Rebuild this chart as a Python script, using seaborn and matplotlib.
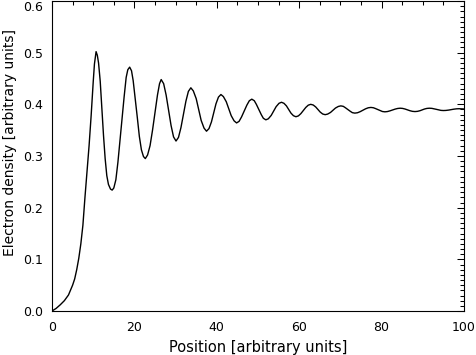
import matplotlib
matplotlib.use("Agg")
import matplotlib.pyplot as plt
from matplotlib.ticker import MultipleLocator
import seaborn as sns

# ── DATA ──────────────────────────────────────────────────
# rising edge and first two oscillations
position_start = [0.0, 1.0, 2.0, 3.0, 4.0, 5.0, 5.5, 6.0, 6.5, 7.0, 7.5,
                  8.0, 8.5, 9.0, 9.5, 10.0, 10.3, 10.7, 11.0, 11.3, 11.7,
                  12.1, 12.5, 12.9, 13.3, 13.7, 14.2, 14.6, 15.0, 15.5,
                  16.0, 16.5, 17.0, 17.5, 18.0, 18.4, 18.85, 19.3, 19.7,
                  20.2, 20.7, 21.2, 21.7, 22.2, 22.65, 23.2, 23.8, 24.4,
                  25.0, 25.6, 26.1]
density_start = [0.000, 0.005, 0.012, 0.020, 0.031, 0.050, 0.062, 0.080,
                 0.102, 0.130, 0.166, 0.220, 0.270, 0.320, 0.378, 0.443,
                 0.478, 0.502, 0.495, 0.480, 0.445, 0.392, 0.340, 0.295,
                 0.262, 0.245, 0.236, 0.234, 0.238, 0.254, 0.288, 0.330,
                 0.373, 0.414, 0.452, 0.467, 0.472, 0.465, 0.446, 0.411,
                 0.375, 0.338, 0.312, 0.299, 0.295, 0.302, 0.320, 0.350,
                 0.384, 0.418, 0.440]

# damped tail, settling near 0.39
position_tail = [26.5, 27.1, 27.7, 28.3, 28.9, 29.5,
                 30.1, 30.7, 31.3, 31.9, 32.5, 33.1,
                 33.7, 34.3, 35.0, 35.6, 36.2, 36.9,
                 37.5, 38.1, 38.7, 39.25, 39.8, 40.4,
                 41.0, 41.6, 42.3, 42.9, 43.5, 44.2,
                 44.8, 45.4, 46.0, 46.65, 47.3, 47.9,
                 48.5, 49.1, 49.6, 50.2, 50.8, 51.3,
                 51.9, 52.5, 53.2, 53.8, 54.4, 55.1,
                 55.7, 56.3, 56.9, 57.45, 58.0, 58.6,
                 59.2, 59.8, 60.4, 61.0, 61.6, 62.2,
                 62.8, 63.4, 64.0, 64.55, 65.1, 65.7,
                 66.3, 66.9, 67.6, 68.2, 68.8, 69.5,
                 70.1, 70.7, 71.2, 71.8, 72.4, 72.9,
                 73.5, 74.15, 74.8, 75.45, 76.1, 76.75,
                 77.4, 78.0, 78.5, 79.1, 79.7, 80.2,
                 80.8, 81.4, 82.0, 82.65, 83.3, 83.9,
                 84.5, 85.1, 85.7, 86.3, 86.9, 87.5,
                 88.1, 88.7, 89.3, 89.85, 90.4, 91.0,
                 91.6, 92.2, 92.7, 93.3, 93.9, 94.4,
                 95.0, 95.6, 96.3, 96.9, 97.5, 98.2,
                 98.8, 100.0]
density_tail = [0.448, 0.440, 0.418, 0.3885, 0.359, 0.337,
                0.329, 0.336, 0.355, 0.3805, 0.406, 0.425,
                0.432, 0.426, 0.411, 0.390, 0.369, 0.354,
                0.348, 0.353, 0.366, 0.3835, 0.401, 0.414,
                0.419, 0.415, 0.405, 0.3915, 0.378, 0.368,
                0.364, 0.367, 0.3755, 0.387, 0.3985, 0.407,
                0.410, 0.407, 0.400, 0.390, 0.380, 0.373,
                0.370, 0.372, 0.3785, 0.387, 0.3955, 0.402,
                0.404, 0.402, 0.397, 0.390, 0.383, 0.378,
                0.376, 0.3776, 0.382, 0.388, 0.394, 0.3984,
                0.400, 0.3987, 0.395, 0.390, 0.385, 0.3813,
                0.380, 0.3811, 0.3843, 0.3885, 0.3928, 0.3959,
                0.397, 0.3961, 0.3935, 0.390, 0.3865, 0.3839,
                0.383, 0.3837, 0.3858, 0.3885, 0.3913, 0.3933,
                0.394, 0.3934, 0.3919, 0.3898, 0.3876, 0.3861,
                0.3855, 0.3860, 0.3873, 0.389, 0.3908, 0.392,
                0.3925, 0.3921, 0.3909, 0.3893, 0.3876, 0.3864,
                0.386, 0.3864, 0.3876, 0.3893, 0.3909, 0.3921,
                0.3925, 0.3922, 0.3914, 0.3903, 0.3891, 0.3883,
                0.388, 0.3882, 0.3889, 0.3898, 0.3906, 0.3913,
                0.3915, 0.391]

position = position_start + position_tail
density = density_start + density_tail

x_label = "Position [arbitrary units]"
y_label = "Electron density [arbitrary units]"

# ── STYLE ─────────────────────────────────────────────────
sns.set_style("white")
plt.rcParams["font.family"] = ["DejaVu Sans"]

fig = plt.figure(figsize=(4.77, 3.55), dpi=100)
ax = fig.add_axes([52 / 477, 44 / 355, 412 / 477, 310 / 355])

sns.lineplot(x=position, y=density, ax=ax, color="black",
             linewidth=1.0, sort=False, estimator=None)

ax.set_xlim(0, 100)
ax.set_ylim(0, 0.6)
ax.xaxis.set_major_locator(MultipleLocator(20))
ax.xaxis.set_minor_locator(MultipleLocator(5))
ax.yaxis.set_major_locator(MultipleLocator(0.1))
ax.yaxis.set_minor_locator(MultipleLocator(0.01))
ax.xaxis.set_major_formatter(plt.FuncFormatter(lambda v, p: f"{v:.0f}"))
ax.yaxis.set_major_formatter(plt.FuncFormatter(lambda v, p: f"{v:.1f}"))

ax.tick_params(which="both", direction="in", top=True, right=True,
               width=0.75, color="black", labelsize=9, labelcolor="black")
ax.tick_params(which="major", length=5)
ax.tick_params(which="minor", length=2.8)
ax.tick_params(axis="x", which="major", pad=7.5)
ax.tick_params(axis="y", which="major", pad=6.5)

for side in ax.spines.values():
    side.set_color("black")
    side.set_linewidth(0.8)

ax.set_xlabel(x_label, fontsize=10.5, color="black")
ax.set_ylabel(y_label, fontsize=10.0, color="black")
ax.xaxis.label.set_va("center")
ax.yaxis.label.set_va("center")
ax.xaxis.set_label_coords(0.5, -0.119)
ax.yaxis.set_label_coords(-0.102, 0.542)

# top label sits just inside the figure edge, as in the reference
fig.canvas.draw()
for tick in ax.yaxis.get_major_ticks():
    if abs(tick.get_loc() - 0.6) < 1e-6:
        tick.label1.set_va("top")

fig.savefig("out.png", dpi=100)
